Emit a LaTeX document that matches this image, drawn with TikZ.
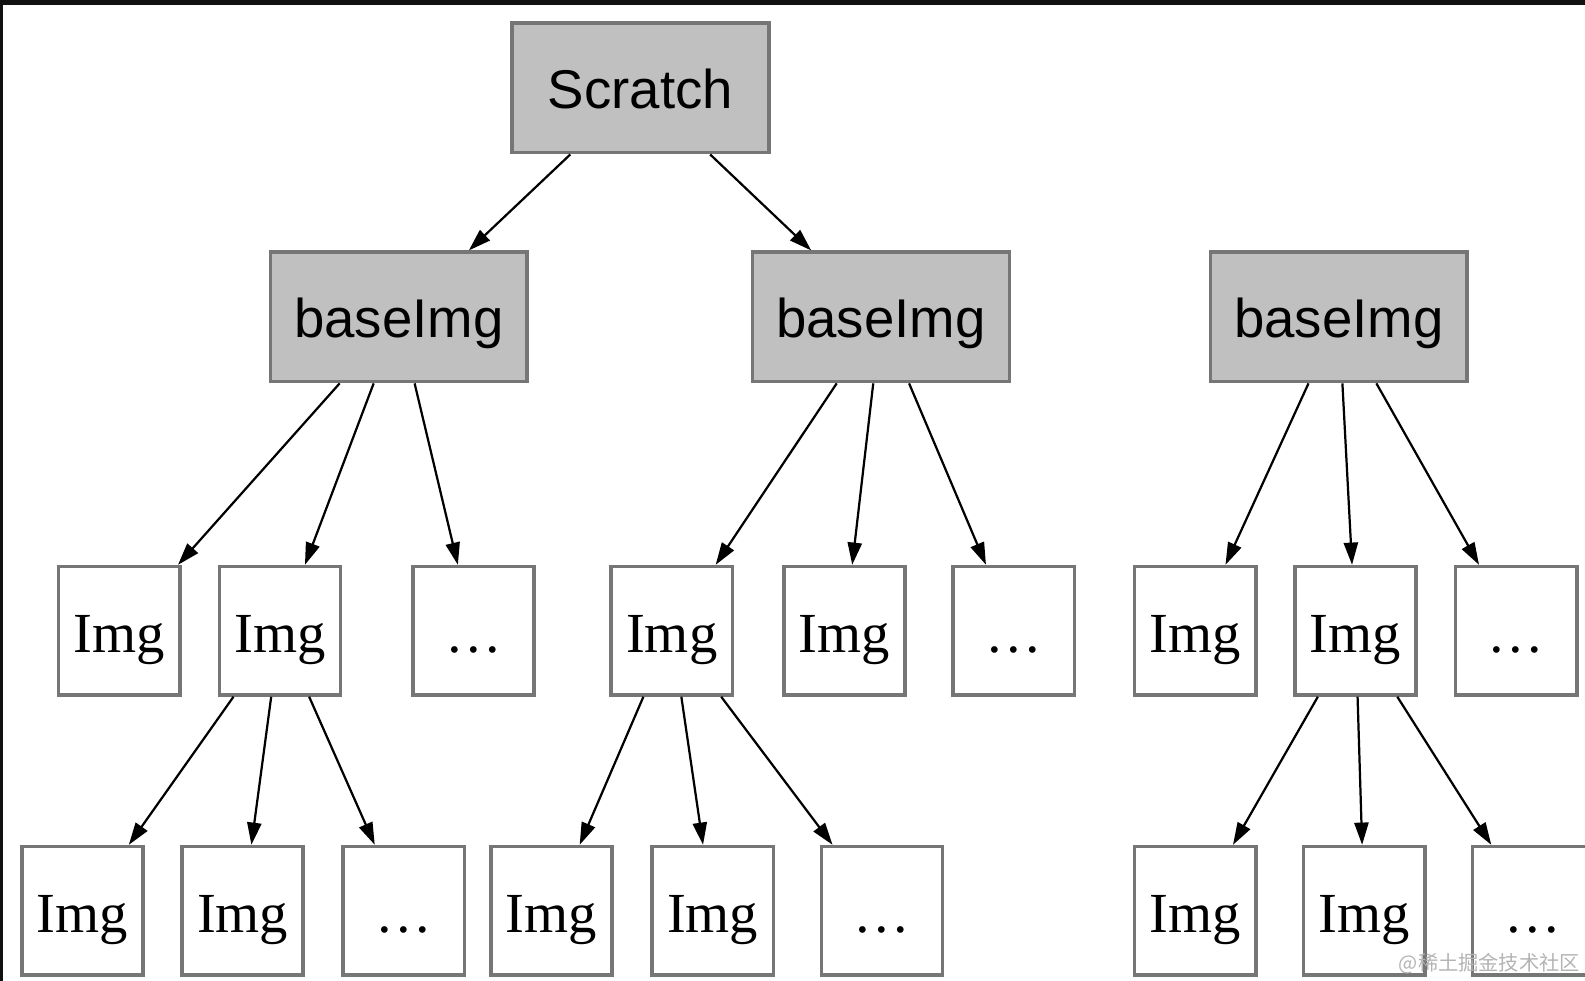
\documentclass[tikz,border=0pt]{standalone}
\usepackage{fontspec}
\setmainfont{Liberation Serif}
\setsansfont{Liberation Sans}
\newfontfamily\cjk{Noto Sans CJK SC}
\usetikzlibrary{arrows.meta}
\definecolor{boxgray}{HTML}{767676}
\definecolor{fillgray}{HTML}{C0C0C0}
\definecolor{band}{HTML}{111111}
\definecolor{wmark}{HTML}{B4B4B4}
\begin{document}
\begin{tikzpicture}[x=1pt,y=-1pt,
  bigbox/.style={draw=boxgray, line width=3.5pt, fill=fillgray, rectangle, inner sep=0pt,
    minimum width=254pt, minimum height=128pt,
    font=\sffamily\fontsize{54}{60}\selectfont, text height=40pt, text depth=0pt},
  smallbox/.style={draw=boxgray, line width=3.5pt, fill=white, rectangle, inner sep=0pt,
    minimum width=120pt, minimum height=127pt,
    font=\rmfamily\fontsize{56}{60}\selectfont, text height=42pt, text depth=0pt},
  edge/.style={line width=2.2pt, -{Triangle[length=22pt,width=14pt]}}
]
\useasboundingbox (0,0) rectangle (1568,970);
\fill[white] (0,0) rectangle (1568,970);

% level 1
\node[bigbox] (s) at (633.5,87) {Scratch};
% level 2
\node[bigbox] (b1) at (394.5,313.5) {baseImg};
\node[bigbox] (b2) at (871.5,313.5) {baseImg};
\node[bigbox] (b3) at (1324.5,313.5) {baseImg};
% level 3
\node[smallbox] (a1) at (118,624) {Img};
\node[smallbox] (a2) at (277,624) {Img};
\node[smallbox] (a3) at (468.5,624) {…};
\node[smallbox] (c1) at (664.5,624) {Img};
\node[smallbox] (c2) at (835.5,624) {Img};
\node[smallbox] (c3) at (1003,624) {…};
\node[smallbox] (d1) at (1182.5,624) {Img};
\node[smallbox] (d2) at (1341,624) {Img};
\node[smallbox] (d3) at (1500,624) {…};
% level 4
\node[smallbox] (e1) at (81.5,901) {Img};
\node[smallbox] (e2) at (240,901) {Img};
\node[smallbox] (e3) at (399.5,901) {…};
\node[smallbox] (f1) at (545.5,901) {Img};
\node[smallbox] (f2) at (705,901) {Img};
\node[smallbox] (f3) at (872.5,901) {…};
\node[smallbox] (g1) at (1182.5,901) {Img};
\node[smallbox] (g2) at (1349.5,901) {Img};
\node[smallbox] (g3) at (1516.5,901) {…};

% edges
\draw[edge] (s) -- (b1);
\draw[edge] (s) -- (b2);
\foreach \t in {a1,a2,a3} \draw[edge] (b1) -- (\t);
\foreach \t in {c1,c2,c3} \draw[edge] (b2) -- (\t);
\foreach \t in {d1,d2,d3} \draw[edge] (b3) -- (\t);
\foreach \t in {e1,e2,e3} \draw[edge] (a2) -- (\t);
\foreach \t in {f1,f2,f3} \draw[edge] (c1) -- (\t);
\foreach \t in {g1,g2,g3} \draw[edge] (d2) -- (\t);

% watermark
\node[font=\cjk\fontsize{20}{22}\selectfont, text=wmark, anchor=east, inner sep=0pt] (wm) at (1563,953) {@稀土掘金技术社区};

% dark frame bands
\fill[band] (0,0) rectangle (1568,5);
\fill[band] (0,0) rectangle (3,970);
\end{tikzpicture}
\end{document}
